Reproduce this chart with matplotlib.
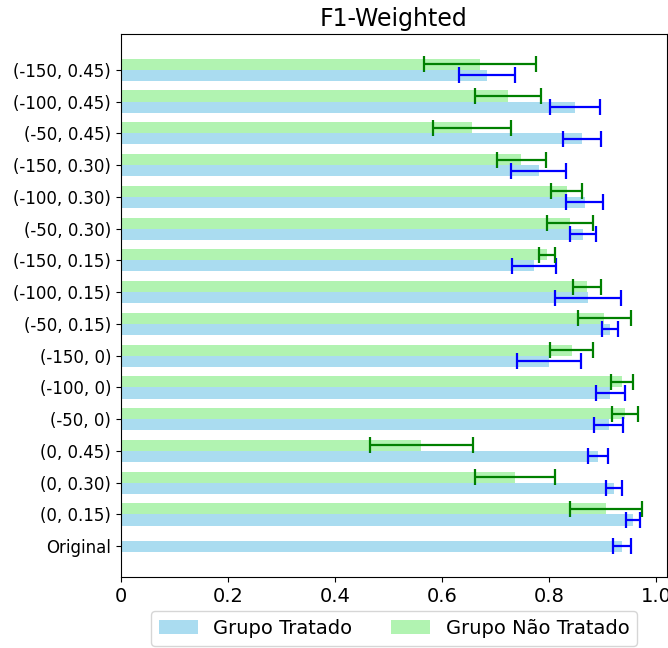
import numpy as np
import matplotlib
matplotlib.use('Agg')
import matplotlib.pyplot as plt

# categories bottom -> top
labels = ['Original', '(0, 0.15)', '(0, 0.30)', '(0, 0.45)',
          '(-50, 0)', '(-100, 0)', '(-150, 0)',
          '(-50, 0.15)', '(-100, 0.15)', '(-150, 0.15)',
          '(-50, 0.30)', '(-100, 0.30)', '(-150, 0.30)',
          '(-50, 0.45)', '(-100, 0.45)', '(-150, 0.45)']

# Grupo Tratado (mean, std)
tratado_mean = [0.936, 0.957, 0.921, 0.891, 0.911, 0.914, 0.799, 0.914, 0.873, 0.772,
                0.863, 0.866, 0.780, 0.861, 0.848, 0.684]
tratado_err = [0.016, 0.013, 0.015, 0.019, 0.027, 0.027, 0.060, 0.015, 0.062, 0.041,
               0.025, 0.035, 0.051, 0.035, 0.046, 0.053]

# Grupo Nao Tratado (no value for Original)
nao_mean = [0.906, 0.736, 0.561, 0.942, 0.936, 0.842, 0.903, 0.870, 0.795,
            0.838, 0.833, 0.748, 0.655, 0.723, 0.671]
nao_err = [0.068, 0.075, 0.096, 0.024, 0.021, 0.040, 0.049, 0.026, 0.015,
           0.043, 0.029, 0.046, 0.073, 0.061, 0.105]

h = 0.35
y = np.arange(len(labels))

fig = plt.figure(figsize=(6.68, 6.48), dpi=100)
ax = fig.add_axes([0.181, 0.1096, 0.8175, 0.838])

# Original has only one bar, centred on the tick
y_trat = np.concatenate([[0], y[1:] - h / 2])
y_nao = y[1:] + h / 2

ax.barh(y_trat, tratado_mean, height=h, color='skyblue', alpha=0.7, label='Grupo Tratado')
ax.barh(y_nao, nao_mean, height=h, color='lightgreen', alpha=0.7, label='Grupo Não Tratado')
ax.errorbar(tratado_mean, y_trat, xerr=tratado_err, fmt='none', ecolor='blue',
            elinewidth=1.6, capsize=6, capthick=1.6)
ax.errorbar(nao_mean, y_nao, xerr=nao_err, fmt='none', ecolor='green',
            elinewidth=1.6, capsize=6, capthick=1.6)

ax.set_yticks(y)
ax.set_yticklabels(labels, fontsize=12)
xt = [0, 0.2, 0.4, 0.6, 0.8, 1.0]
ax.set_xticks(xt)
ax.set_xticklabels(['0', '0.2', '0.4', '0.6', '0.8', '1.0'], fontsize=14)
ax.set_xlim(0, 1.02)
ax.set_ylim(-0.97, 16.13)
ax.set_title('F1-Weighted', fontsize=17)
ax.legend(loc='upper center', bbox_to_anchor=(0.5, -0.052), ncol=2, fontsize=14,
          borderaxespad=0.3)

fig.savefig('out.png', dpi=100)
